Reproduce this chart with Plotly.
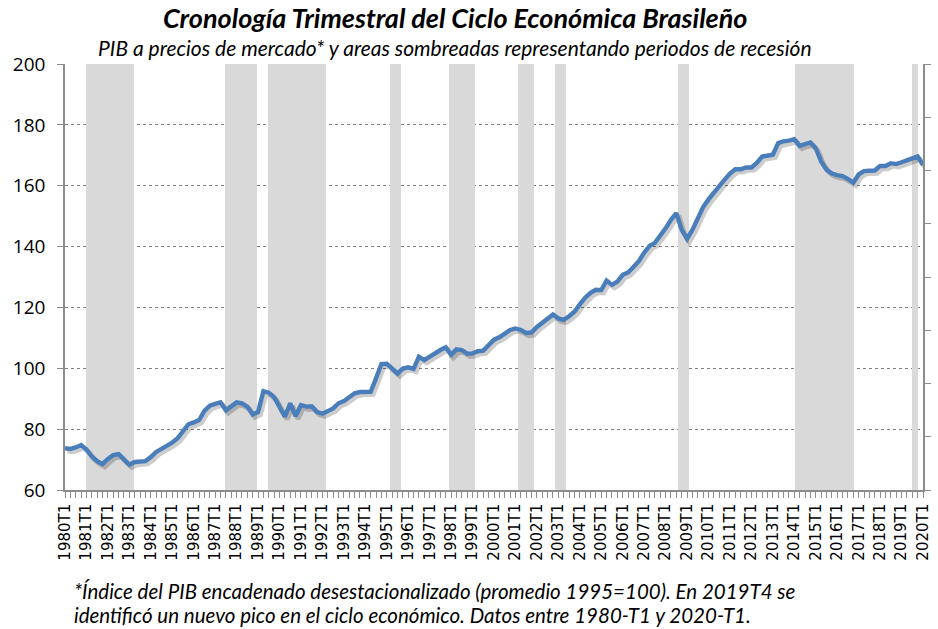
import plotly.graph_objects as go

# ---------------- data ----------------
years = list(range(1980, 2021))
quarters = [f"{y}T{q}" for y in range(1980, 2021) for q in (1, 2, 3, 4)][:161]
tick_labels = [f"{y}T1" for y in years]

gdp = [
    73.7, 73.5, 74.0, 74.8,      # 1980
    73.3, 71.0, 69.5, 68.5,      # 1981
    70.2, 71.5, 71.8, 70.0,      # 1982
    68.3, 69.2, 69.3, 69.5,      # 1983
    70.8, 72.5, 73.5, 74.5,      # 1984
    75.6, 77.0, 79.5, 81.6,      # 1985
    82.2, 83.0, 86.0, 87.7,      # 1986
    88.3, 88.8, 86.2, 87.5,      # 1987
    88.8, 88.5, 87.4, 84.8,      # 1988
    85.6, 92.5, 92.0, 90.5,      # 1989
    87.5, 84.1, 88.5, 84.3,      # 1990
    87.9, 87.4, 87.5, 85.6,      # 1991
    85.1, 85.9, 86.8, 88.5,      # 1992
    89.2, 90.5, 91.8, 92.2,      # 1993
    92.1, 92.3, 96.7, 101.4,     # 1994
    101.5, 100.0, 98.3, 99.9,    # 1995
    100.3, 99.8, 103.8, 102.7,   # 1996
    104.0, 104.9, 106.0, 106.9,  # 1997
    104.4, 106.2, 106.0, 104.8,  # 1998
    104.9, 105.6, 105.8, 107.5,  # 1999
    109.4, 110.2, 111.2, 112.6,  # 2000
    113.1, 112.6, 111.6, 111.8,  # 2001
    113.6, 115.0, 116.4, 117.7,  # 2002
    116.4, 115.9, 117.1, 118.6,  # 2003
    121.0, 123.2, 124.8, 125.8,  # 2004
    125.7, 128.8, 127.4, 128.5,  # 2005
    130.7, 131.5, 133.3, 135.2,  # 2006
    138.0, 140.2, 141.2, 143.5,  # 2007
    146.0, 148.8, 151.0, 145.5,  # 2008
    142.5, 145.5, 149.5, 153.0,  # 2009
    155.5, 157.8, 160.0, 162.0,  # 2010
    164.0, 165.4, 165.4, 166.0,  # 2011
    166.0, 167.5, 169.6, 170.0,  # 2012
    170.2, 174.0, 174.6, 174.8,  # 2013
    175.3, 173.1, 173.8, 174.2,  # 2014
    172.3, 168.0, 165.3, 164.0,  # 2015
    163.5, 163.2, 162.2, 161.0,  # 2016
    163.7, 164.8, 164.9, 165.0,  # 2017
    166.5, 166.5, 167.4, 167.1,  # 2018
    167.7, 168.5, 169.0, 169.6,  # 2019
    166.8,                       # 2020
]

recessions = [
    ("1981T1", "1983T1"),
    ("1987T3", "1988T4"),
    ("1989T3", "1992T1"),
    ("1995T2", "1995T3"),
    ("1998T1", "1999T1"),
    ("2001T2", "2001T4"),
    ("2003T1", "2003T2"),
    ("2008T4", "2009T1"),
    ("2014T2", "2016T4"),
    ("2019T4", "2019T4"),
]

# ---------------- derived ----------------
idx = list(range(len(gdp)))
rec_idx = []
for a, b in recessions:
    rec_idx += list(range(quarters.index(a), quarters.index(b) + 1))
rec_h = [1] * len(rec_idx)

tickvals = [quarters.index(t) for t in tick_labels]

LINE = "#4A7EBB"
AXIS = "#8C8C8C"

fig = go.Figure()

# recession shading (bins over whole width)
fig.add_trace(go.Bar(
    x=rec_idx, y=rec_h, width=[1] * len(rec_idx),
    marker=dict(color="#D9D9D9", line=dict(width=0)),
    xaxis="x", yaxis="y", hoverinfo="skip", showlegend=False,
))

# soft shadow of the line (slightly shifted axes)
fig.add_trace(go.Scatter(
    x=idx, y=gdp, mode="lines",
    line=dict(color="rgba(0,0,0,0.20)", width=5),
    xaxis="x2", yaxis="y2", hoverinfo="skip", showlegend=False,
))

# main GDP line
fig.add_trace(go.Scatter(
    x=idx, y=gdp, mode="lines",
    line=dict(color=LINE, width=4.4),
    xaxis="x3", yaxis="y3", showlegend=False, name="PIB",
))

# right axis (unlabelled) carrier
fig.add_trace(go.Scatter(
    x=[idx[0]], y=[0], mode="markers", marker=dict(opacity=0),
    xaxis="x3", yaxis="y4", hoverinfo="skip", showlegend=False,
))

n = len(gdp)
fig.update_layout(
    width=938, height=629,
    margin=dict(l=65, r=6, t=64, b=139),
    paper_bgcolor="white", plot_bgcolor="white",
    bargap=0,
    xaxis=dict(range=[-0.5, n - 0.5], visible=False, fixedrange=True),
    yaxis=dict(range=[0, 1], visible=False),
    xaxis2=dict(range=[-0.45, n - 1 - 0.45], overlaying="x", visible=False),
    yaxis2=dict(range=[60 + 0.9, 200 + 0.9], overlaying="y", visible=False),
    xaxis3=dict(
        range=[0, n - 1], overlaying="x", anchor="y3",
        tickmode="array", tickvals=tickvals, ticktext=tick_labels,
        tickangle=-90, tickfont=dict(family="DejaVu Sans", size=15, color="#000"),
        ticks="outside", ticklen=6, tickcolor=AXIS,
        minor=dict(ticks="outside", ticklen=6, tickcolor=AXIS, dtick=1, tick0=0, showgrid=False),
        showline=True, linecolor=AXIS, linewidth=1.5,
        showgrid=False, zeroline=False,
    ),
    yaxis3=dict(
        range=[60, 200], overlaying="y", anchor="x3", side="left",
        tickmode="linear", tick0=60, dtick=20,
        tickfont=dict(family="Open Sans", size=19, color="#000"),
        ticks="outside", ticklen=6, tickcolor=AXIS,
        showline=True, linecolor=AXIS, linewidth=1.5,
        showgrid=True, gridcolor="#808080", gridwidth=1, griddash="dot",
        zeroline=False, ticklabelstandoff=8,
    ),
    yaxis4=dict(
        range=[0, 8], overlaying="y", anchor="x3", side="right",
        tickmode="linear", tick0=0, dtick=1, showticklabels=False,
        ticks="outside", ticklen=6, tickcolor=AXIS,
        showline=True, linecolor=AXIS, linewidth=1.5,
        showgrid=False, zeroline=False,
    ),
)

fig.add_annotation(
    text="<b><i>Cronología Trimestral del Ciclo Económica Brasileño</i></b>",
    xref="paper", yref="paper", x=0.455, y=1.108, xanchor="center", yanchor="middle",
    showarrow=False, font=dict(family="Lato", size=27, color="#000"),
)
fig.add_annotation(
    text="<i>PIB a precios de mercado* y areas sombreadas representando periodos de recesión</i>",
    xref="paper", yref="paper", x=0.454, y=1.038, xanchor="center", yanchor="middle",
    showarrow=False, font=dict(family="Lato", size=21, color="#000"),
)
fig.add_annotation(
    text="<i>*Índice del PIB encadenado desestacionalizado (promedio 1995=100). En 2019T4 se</i>",
    xref="paper", yref="paper", x=0.008, y=-0.237, xanchor="left", yanchor="middle",
    showarrow=False, font=dict(family="Lato", size=20.5, color="#000"),
)
fig.add_annotation(
    text="<i>identificó un nuevo pico en el ciclo económico. Datos entre 1980-T1 y 2020-T1.</i>",
    xref="paper", yref="paper", x=0.008, y=-0.293, xanchor="left", yanchor="middle",
    showarrow=False, font=dict(family="Lato", size=20.5, color="#000"),
)

# remove the browser's default 8px page margin so the figure fills the window
fig.write_html(
    "out.html",
    config={"displayModeBar": False},
    post_script="document.body.style.margin='0px';",
)
